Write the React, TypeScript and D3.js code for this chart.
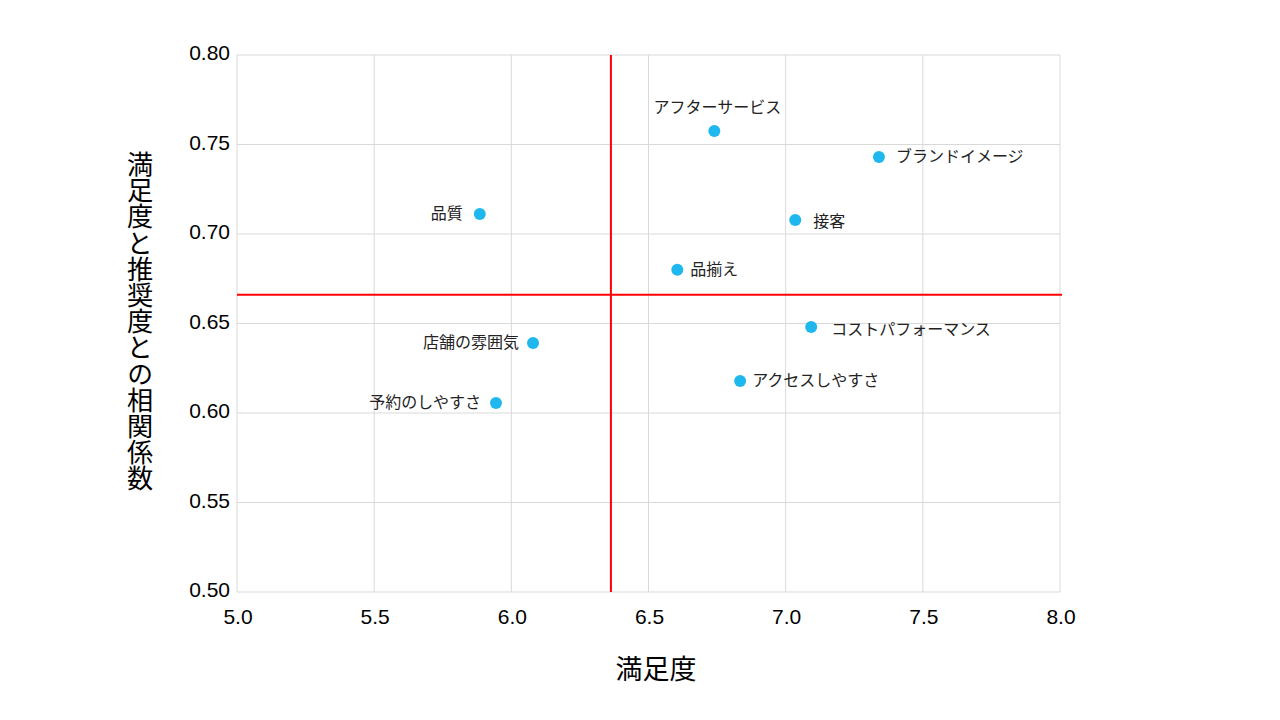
import React from "react";
import * as d3 from "d3";

const labels = ["アフターサービス", "ブランドイメージ", "品質", "接客", "品揃え", "コストパフォーマンス", "店舗の雰囲気", "アクセスしやすさ", "予約のしやすさ"];
const satisfaction = [6.74, 7.34, 5.885, 7.035, 6.605, 7.093, 6.079, 6.834, 5.944];
const correlation = [0.7575, 0.743, 0.7112, 0.7078, 0.680, 0.648, 0.6391, 0.6179, 0.6056];
const placement = ["top", "right", "left", "right", "right", "right", "left", "right", "left"];
const xTicks = [5.0, 5.5, 6.0, 6.5, 7.0, 7.5, 8.0];
const yTicks = [0.5, 0.55, 0.6, 0.65, 0.7, 0.75, 0.8];
const refX = 6.363;
const refY = 0.666;
const xTitle = "満足度";
const yTitle = "満足度と推奨度との相関係数";

const extraGap = [0, 17, 17, 18, 13, 20, 14, 12, 15];
const extraDy = [0, 0, 0, 2, 0, 3, 0, 0, 0];

export default function App() {
  const W = 1280, H = 720;
  const x = d3.scaleLinear().domain([5, 8]).range([237, 1060]);
  const y = d3.scaleLinear().domain([0.5, 0.8]).range([592, 55]);
  const jp = "'Noto Sans CJK JP', 'Noto Sans', sans-serif";
  const num = "'Liberation Sans', Arial, sans-serif";
  return (
    <svg width={W} height={H} style={{ position: "absolute", left: 0, top: 0, background: "#fff" }}>
      <rect width={W} height={H} fill="#fff" />
      {xTicks.map((t) => (
        <line key={"gx" + t} x1={x(t)} x2={x(t)} y1={y(0.8)} y2={y(0.5)} stroke="#d9d9d9" strokeWidth={1} />
      ))}
      {yTicks.map((t) => (
        <line key={"gy" + t} x1={x(5)} x2={x(8)} y1={y(t)} y2={y(t)} stroke="#d9d9d9" strokeWidth={1} />
      ))}
      {xTicks.map((t) => (
        <text key={"tx" + t} x={x(t) + 1} y={624} textAnchor="middle" fontFamily={num} fontSize={21} fill="#000">
          {d3.format(".1f")(t)}
        </text>
      ))}
      {yTicks.map((t) => (
        <text key={"ty" + t} x={230} y={y(t) + 5} textAnchor="end" fontFamily={num} fontSize={21} fill="#000">
          {d3.format(".2f")(t)}
        </text>
      ))}
      <line x1={x(refX)} x2={x(refX)} y1={y(0.8)} y2={y(0.5)} stroke="#ff0000" strokeWidth={2} />
      <line x1={x(5)} x2={x(8) + 2} y1={y(refY)} y2={y(refY)} stroke="#ff0000" strokeWidth={2} />
      {labels.map((lab, i) => {
        const cx = x(satisfaction[i]);
        const cy = y(correlation[i]);
        const p = placement[i];
        let tx = cx, ty = cy + 5 + extraDy[i], anchor: "start" | "end" | "middle" = "start";
        if (p === "right") { tx = cx + extraGap[i]; anchor = "start"; }
        else if (p === "left") { tx = cx - extraGap[i]; anchor = "end"; }
        else { tx = cx + 3; ty = cy - 18; anchor = "middle"; }
        return (
          <g key={lab}>
            <circle cx={cx} cy={cy} r={6} fill="#1fb8ee" />
            <text x={tx} y={ty} textAnchor={anchor} fontFamily={jp} fontSize={16} fill="#222">
              {lab}
            </text>
          </g>
        );
      })}
      <text x={656} y={679} textAnchor="middle" fontFamily={jp} fontSize={27} fill="#000">{xTitle}</text>
      <text x={140} y={151} fontFamily={jp} fontSize={26.2} fill="#000"
        style={{ writingMode: "vertical-rl", textOrientation: "upright" } as any}>
        {yTitle}
      </text>
    </svg>
  );
}
